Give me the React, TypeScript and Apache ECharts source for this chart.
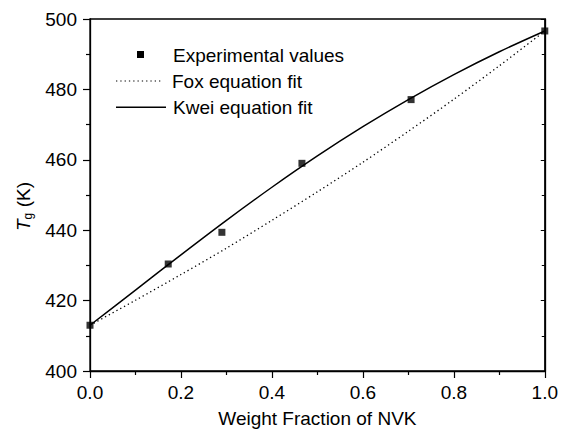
import React, { useEffect, useRef } from "react";
import * as echarts from "echarts";

// Experimental values (weight fraction of NVK, Tg in K)
const expX = [0, 0.172, 0.29, 0.466, 0.706, 1.0];
const expY = [413.0, 430.4, 439.4, 459.0, 477.1, 496.6];

// Fitted curves
const fitX = [0, 0.1, 0.2, 0.3, 0.4, 0.5, 0.6, 0.7, 0.8, 0.9, 1.0];
const foxY = [413.0, 420.1, 427.4, 434.9, 442.8, 450.9, 459.3, 468.1, 477.2, 486.7, 496.6];
const kweiY = [413.0, 423.0, 433.0, 442.8, 452.2, 461.1, 469.4, 477.1, 484.2, 490.7, 496.6];

const legendLabels = ["Experimental values", "Fox equation fit", "Kwei equation fit"];
const xTitle = "Weight Fraction of NVK";

const FONT = "'Liberation Sans', Arial, Helvetica, sans-serif";
const FS = 19;

export default function App() {
  const ref = useRef<HTMLDivElement>(null);
  useEffect(() => {
    const chart = echarts.init(ref.current!, null, { renderer: "svg" });
    const axisLine = { show: true, lineStyle: { color: "#000", width: 1.3 } };
    chart.setOption({
      animation: false,
      backgroundColor: "#fff",
      textStyle: { fontFamily: FONT },
      grid: {
        left: 90,
        right: 15,
        top: 19,
        bottom: 60,
        show: true,
        borderColor: "#000",
        borderWidth: 1.3,
        backgroundColor: "transparent",
      },
      xAxis: [
        {
          type: "value",
          min: 0,
          max: 1,
          interval: 0.2,
          axisLine,
          axisTick: { show: true, length: 7, lineStyle: { color: "#000", width: 1.2 } },
          minorTick: { show: true, splitNumber: 2, length: 4, lineStyle: { color: "#000", width: 1.2 } },
          splitLine: { show: false },
          axisLabel: {
            fontSize: FS,
            color: "#000",
            margin: 12,
            fontFamily: FONT,
            formatter: (v: number) => v.toFixed(1),
          },
          name: xTitle,
          nameLocation: "middle",
          nameGap: 38,
          nameTextStyle: { fontSize: FS, color: "#000", fontFamily: FONT },
        },
      ],
      yAxis: [
        {
          type: "value",
          min: 400,
          max: 500,
          interval: 20,
          axisLine,
          axisTick: { show: true, length: 7, lineStyle: { color: "#000", width: 1.2 } },
          minorTick: { show: true, splitNumber: 2, length: 4, lineStyle: { color: "#000", width: 1.2 } },
          splitLine: { show: false },
          axisLabel: { fontSize: FS, color: "#000", margin: 13, fontFamily: FONT },
        },
        {
          type: "value",
          position: "right",
          min: 400,
          max: 500,
          interval: 20,
          axisLine,
          axisTick: { show: true, inside: true, length: 4, lineStyle: { color: "#000", width: 1 } },
          minorTick: { show: true, splitNumber: 2, length: 3, lineStyle: { color: "#000", width: 1 } },
          splitLine: { show: false },
          axisLabel: { show: false },
        },
      ],
      series: [
        {
          name: legendLabels[1],
          type: "line",
          data: fitX.map((x, i) => [x, foxY[i]]),
          smooth: 0.3,
          showSymbol: false,
          symbol: "none",
          lineStyle: { color: "#000", width: 1.3, type: [1.3, 3] },
          z: 2,
        },
        {
          name: legendLabels[2],
          type: "line",
          data: fitX.map((x, i) => [x, kweiY[i]]),
          smooth: 0.3,
          showSymbol: false,
          symbol: "none",
          lineStyle: { color: "#000", width: 1.5 },
          z: 3,
        },
        {
          name: legendLabels[0],
          type: "scatter",
          data: expX.map((x, i) => [x, expY[i]]),
          symbol: "rect",
          symbolSize: 7,
          itemStyle: { color: "#000" },
          z: 4,
        },
      ],
      graphic: [
        {
          type: "group",
          x: 23,
          y: 231,
          rotation: Math.PI / 2,
          children: [
            {
              type: "text",
              x: 0,
              y: 0,
              style: { text: "T", fontSize: FS, fontStyle: "italic", fontFamily: FONT, fill: "#000", verticalAlign: "middle", align: "left" },
            },
            {
              type: "text",
              x: 11.5,
              y: 5,
              style: { text: "g", fontSize: 12, fontFamily: FONT, fill: "#000", verticalAlign: "middle", align: "left" },
            },
            {
              type: "text",
              x: 18.5,
              y: 0,
              style: { text: " (K)", fontSize: FS, fontFamily: FONT, fill: "#000", verticalAlign: "middle", align: "left" },
            },
          ],
        },
        {
          type: "rect",
          shape: { x: 137, y: 51, width: 7, height: 7 },
          style: { fill: "#000" },
        },
        {
          type: "text",
          x: 173,
          y: 55,
          style: { text: legendLabels[0], fontSize: FS, fontFamily: FONT, fill: "#000", verticalAlign: "middle" },
        },
        {
          type: "line",
          shape: { x1: 116, y1: 81, x2: 161, y2: 81 },
          style: { stroke: "#000", lineWidth: 1.2, lineDash: [1.3, 3] },
        },
        {
          type: "text",
          x: 172,
          y: 81.5,
          style: { text: legendLabels[1], fontSize: FS, fontFamily: FONT, fill: "#000", verticalAlign: "middle" },
        },
        {
          type: "line",
          shape: { x1: 116, y1: 107.3, x2: 166, y2: 107.3 },
          style: { stroke: "#000", lineWidth: 1.5 },
        },
        {
          type: "text",
          x: 173,
          y: 107,
          style: { text: legendLabels[2], fontSize: FS, fontFamily: FONT, fill: "#000", verticalAlign: "middle" },
        },
      ],
    });
    return () => chart.dispose();
  }, []);
  return <div ref={ref} style={{ position: "fixed", left: 0, top: 0, width: 561, height: 433 }} />;
}
